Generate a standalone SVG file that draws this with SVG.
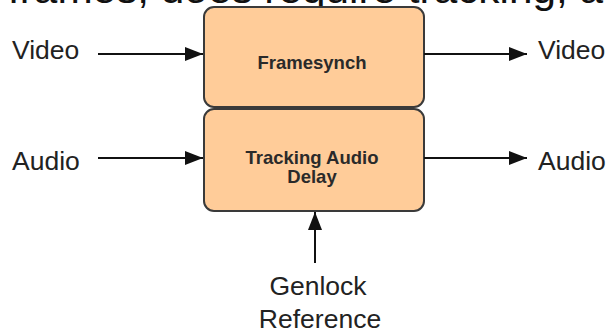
<svg xmlns="http://www.w3.org/2000/svg" width="611" height="334" viewBox="0 0 611 334">
  <defs>
    <style>
      .box { fill: #ffcc99; stroke: #3a3a3a; stroke-width: 2; }
      .boxtext { font-family: "Liberation Sans", Arial, sans-serif; font-weight: bold; font-size: 18.5px; fill: #2a2a2a; text-anchor: middle; }
      .label { font-family: "Liberation Sans", Arial, sans-serif; font-size: 26.5px; fill: #222; }
      .wire { stroke: #111; stroke-width: 2; fill: none; marker-end: url(#head); }
      .caption { font-family: "Liberation Sans", Arial, sans-serif; font-size: 40px; fill: #111; }
    </style>
    <marker id="head" markerWidth="18" markerHeight="14" refX="18" refY="7" orient="auto" markerUnits="userSpaceOnUse">
      <path d="M0,0 L18,7 L0,14 Z" fill="#111"/>
    </marker>
  </defs>
  <rect width="611" height="334" fill="#ffffff"/>

  <!-- running text line from the page above, clipped at the top edge -->
  <text class="caption" x="8" y="3" textLength="595" lengthAdjust="spacingAndGlyphs">frames, does require tracking, a</text>

  <g id="framesynch">
    <rect class="box" x="204" y="7" width="220" height="100" rx="10" ry="10"/>
    <text class="boxtext" x="312" y="69">Framesynch</text>
  </g>

  <g id="audio-delay">
    <rect class="box" x="204" y="109" width="220" height="102" rx="10" ry="10"/>
    <text class="boxtext" x="312" y="164">Tracking Audio</text>
    <text class="boxtext" x="312" y="183">Delay</text>
  </g>

  <g id="video-in"><text class="label" x="12" y="59">Video</text></g>
  <g id="audio-in"><text class="label" x="12" y="170">Audio</text></g>
  <g id="video-out"><text class="label" x="538" y="59">Video</text></g>
  <g id="audio-out"><text class="label" x="538" y="170">Audio</text></g>
  <g id="genlock">
    <text class="label" x="318" y="295" text-anchor="middle">Genlock</text>
    <text class="label" x="320" y="328" text-anchor="middle">Reference</text>
  </g>

  <g id="connectors">
    <line class="wire" x1="98" y1="54" x2="203" y2="54"/>
    <line class="wire" x1="98" y1="158" x2="203" y2="158"/>
    <line class="wire" x1="424" y1="54" x2="527" y2="54"/>
    <line class="wire" x1="424" y1="158" x2="527" y2="158"/>
    <line class="wire" x1="315" y1="263" x2="315" y2="212"/>
  </g>
</svg>
